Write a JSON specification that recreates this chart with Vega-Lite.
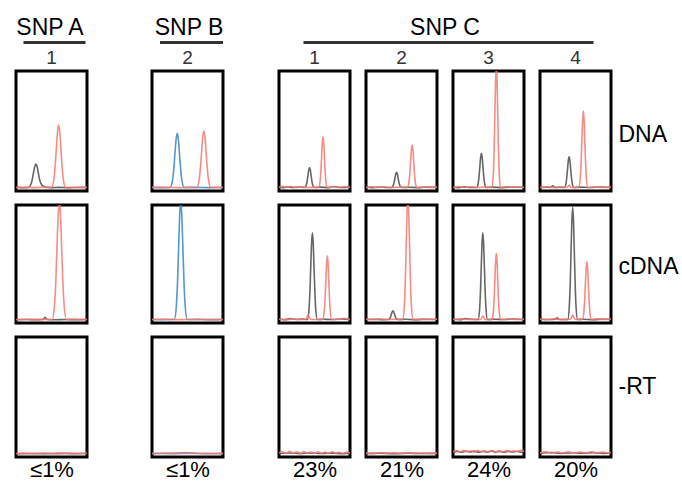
{
"$schema":"https://vega.github.io/schema/vega-lite/v6.json",
"padding":{"left":14,"top":17,"right":0,"bottom":0},
"config":{"view":{"stroke":"#000","strokeWidth":3},"font":"Liberation Sans","title":{"fontWeight":"normal","color":"#000","font":"Liberation Sans"},"axis":{"titleFontWeight":"normal","titleColor":"#000","titleFont":"Liberation Sans"},"line":{"interpolate":"monotone","strokeWidth":1.6,"opacity":0.85}},
"datasets":{
"A1_DNA":[{"dye":"TAMRA","pos":0,"signal":1.2},{"dye":"TAMRA","pos":8,"signal":0.8},{"dye":"TAMRA","pos":17.5,"signal":1},{"dye":"TAMRA","pos":21,"signal":3.7},{"dye":"TAMRA","pos":22.8,"signal":7.5},{"dye":"TAMRA","pos":24.5,"signal":13.1},{"dye":"TAMRA","pos":26.3,"signal":18.6},{"dye":"TAMRA","pos":28,"signal":21},{"dye":"TAMRA","pos":29.8,"signal":18.6},{"dye":"TAMRA","pos":31.5,"signal":13.1},{"dye":"TAMRA","pos":33.3,"signal":7.5},{"dye":"TAMRA","pos":35,"signal":4.5},{"dye":"TAMRA","pos":38.5,"signal":2},{"dye":"TAMRA","pos":44,"signal":1},{"dye":"TAMRA","pos":52,"signal":0.9},{"dye":"TAMRA","pos":60,"signal":1.1},{"dye":"TAMRA","pos":75,"signal":0.8},{"dye":"TAMRA","pos":90,"signal":1.2},{"dye":"TAMRA","pos":100,"signal":1},
{"dye":"ROX","pos":0,"signal":1},{"dye":"ROX","pos":12,"signal":1.3},{"dye":"ROX","pos":25,"signal":0.9},{"dye":"ROX","pos":40,"signal":1.2},{"dye":"ROX","pos":50.1,"signal":1},{"dye":"ROX","pos":53.4,"signal":8.2},{"dye":"ROX","pos":55,"signal":18.2},{"dye":"ROX","pos":56.7,"signal":33.2},{"dye":"ROX","pos":58.4,"signal":47.7},{"dye":"ROX","pos":60,"signal":54},{"dye":"ROX","pos":61.7,"signal":47.7},{"dye":"ROX","pos":63.3,"signal":33.2},{"dye":"ROX","pos":65,"signal":18.2},{"dye":"ROX","pos":66.6,"signal":8.2},{"dye":"ROX","pos":69.9,"signal":1},{"dye":"ROX","pos":80,"signal":1.2},{"dye":"ROX","pos":90,"signal":0.8},{"dye":"ROX","pos":100,"signal":1.1}],
"A1_cDNA":[{"dye":"TAMRA","pos":0,"signal":0.8},{"dye":"TAMRA","pos":15,"signal":1},{"dye":"TAMRA","pos":30,"signal":0.9},{"dye":"TAMRA","pos":38,"signal":1},{"dye":"TAMRA","pos":41,"signal":3},{"dye":"TAMRA","pos":44,"signal":1},{"dye":"TAMRA","pos":55,"signal":0.8},{"dye":"TAMRA","pos":70,"signal":1},{"dye":"TAMRA","pos":85,"signal":0.9},{"dye":"TAMRA","pos":100,"signal":1},
{"dye":"ROX","pos":0,"signal":1},{"dye":"ROX","pos":15,"signal":1.2},{"dye":"ROX","pos":30,"signal":0.9},{"dye":"ROX","pos":42,"signal":1.1},{"dye":"ROX","pos":51.1,"signal":1},{"dye":"ROX","pos":54.4,"signal":14.8},{"dye":"ROX","pos":56.1,"signal":34.2},{"dye":"ROX","pos":57.7,"signal":62.9},{"dye":"ROX","pos":59.4,"signal":91},{"dye":"ROX","pos":61,"signal":103},{"dye":"ROX","pos":62.7,"signal":91},{"dye":"ROX","pos":64.3,"signal":62.9},{"dye":"ROX","pos":66,"signal":34.2},{"dye":"ROX","pos":67.6,"signal":14.8},{"dye":"ROX","pos":70.9,"signal":1},{"dye":"ROX","pos":80,"signal":1.2},{"dye":"ROX","pos":90,"signal":0.9},{"dye":"ROX","pos":100,"signal":1}],
"A1_RT":[{"dye":"TAMRA","pos":0,"signal":0.8},{"dye":"TAMRA","pos":20,"signal":1},{"dye":"TAMRA","pos":40,"signal":0.9},{"dye":"TAMRA","pos":60,"signal":1.1},{"dye":"TAMRA","pos":80,"signal":0.9},{"dye":"TAMRA","pos":100,"signal":1},
{"dye":"ROX","pos":0,"signal":1},{"dye":"ROX","pos":10,"signal":1.3},{"dye":"ROX","pos":25,"signal":0.9},{"dye":"ROX","pos":40,"signal":1.2},{"dye":"ROX","pos":55,"signal":0.8},{"dye":"ROX","pos":70,"signal":1.3},{"dye":"ROX","pos":85,"signal":1},{"dye":"ROX","pos":100,"signal":1.2}],
"B2_DNA":[{"dye":"R110","pos":0,"signal":1},{"dye":"R110","pos":12,"signal":0.9},{"dye":"R110","pos":25.6,"signal":1},{"dye":"R110","pos":28.9,"signal":7.2},{"dye":"R110","pos":30.6,"signal":16},{"dye":"R110","pos":32.2,"signal":28.9},{"dye":"R110","pos":33.9,"signal":41.6},{"dye":"R110","pos":35.5,"signal":47},{"dye":"R110","pos":37.2,"signal":41.6},{"dye":"R110","pos":38.8,"signal":28.9},{"dye":"R110","pos":40.5,"signal":16},{"dye":"R110","pos":42.1,"signal":7.2},{"dye":"R110","pos":45.4,"signal":1},{"dye":"R110","pos":60,"signal":1.1},{"dye":"R110","pos":80,"signal":0.9},{"dye":"R110","pos":100,"signal":1},
{"dye":"ROX","pos":0,"signal":1},{"dye":"ROX","pos":20,"signal":1.1},{"dye":"ROX","pos":40,"signal":0.9},{"dye":"ROX","pos":55,"signal":1},{"dye":"ROX","pos":63.1,"signal":1},{"dye":"ROX","pos":66.4,"signal":7.5},{"dye":"ROX","pos":68.1,"signal":16.6},{"dye":"ROX","pos":69.7,"signal":30.1},{"dye":"ROX","pos":71.4,"signal":43.3},{"dye":"ROX","pos":73,"signal":49},{"dye":"ROX","pos":74.7,"signal":43.3},{"dye":"ROX","pos":76.3,"signal":30.1},{"dye":"ROX","pos":78,"signal":16.6},{"dye":"ROX","pos":79.6,"signal":7.5},{"dye":"ROX","pos":82.9,"signal":1},{"dye":"ROX","pos":92,"signal":1.1},{"dye":"ROX","pos":100,"signal":1}],
"B2_cDNA":[{"dye":"R110","pos":0,"signal":1},{"dye":"R110","pos":15,"signal":0.9},{"dye":"R110","pos":31.5,"signal":1},{"dye":"R110","pos":34.5,"signal":14.8},{"dye":"R110","pos":36,"signal":34.2},{"dye":"R110","pos":37.5,"signal":62.9},{"dye":"R110","pos":39,"signal":91},{"dye":"R110","pos":40.5,"signal":103},{"dye":"R110","pos":42,"signal":91},{"dye":"R110","pos":43.5,"signal":62.9},{"dye":"R110","pos":45,"signal":34.2},{"dye":"R110","pos":46.5,"signal":14.8},{"dye":"R110","pos":49.5,"signal":1},{"dye":"R110","pos":65,"signal":1.1},{"dye":"R110","pos":80,"signal":0.9},{"dye":"R110","pos":100,"signal":1},
{"dye":"ROX","pos":0,"signal":1},{"dye":"ROX","pos":20,"signal":1.2},{"dye":"ROX","pos":40,"signal":0.9},{"dye":"ROX","pos":60,"signal":1.1},{"dye":"ROX","pos":80,"signal":0.9},{"dye":"ROX","pos":100,"signal":1}],
"B2_RT":[{"dye":"R110","pos":0,"signal":0.9},{"dye":"R110","pos":25,"signal":1.1},{"dye":"R110","pos":50,"signal":1.5},{"dye":"R110","pos":75,"signal":1},{"dye":"R110","pos":100,"signal":0.9},
{"dye":"ROX","pos":0,"signal":1},{"dye":"ROX","pos":15,"signal":1.2},{"dye":"ROX","pos":35,"signal":0.9},{"dye":"ROX","pos":55,"signal":1.1},{"dye":"ROX","pos":75,"signal":0.9},{"dye":"ROX","pos":100,"signal":1.1}],
"C1_DNA":[{"dye":"TAMRA","pos":0,"signal":1.5},{"dye":"TAMRA","pos":6,"signal":0.8},{"dye":"TAMRA","pos":12,"signal":1.6},{"dye":"TAMRA","pos":20,"signal":1},{"dye":"TAMRA","pos":28,"signal":1.3},{"dye":"TAMRA","pos":36.4,"signal":1},{"dye":"TAMRA","pos":38.6,"signal":3.3},{"dye":"TAMRA","pos":39.7,"signal":6.5},{"dye":"TAMRA","pos":40.8,"signal":11.3},{"dye":"TAMRA","pos":41.9,"signal":16},{"dye":"TAMRA","pos":43,"signal":18},{"dye":"TAMRA","pos":44.1,"signal":16},{"dye":"TAMRA","pos":45.2,"signal":11.3},{"dye":"TAMRA","pos":46.3,"signal":6.5},{"dye":"TAMRA","pos":47.4,"signal":3.3},{"dye":"TAMRA","pos":49.6,"signal":1},{"dye":"TAMRA","pos":58,"signal":1.3},{"dye":"TAMRA","pos":70,"signal":0.9},{"dye":"TAMRA","pos":78,"signal":1.8},{"dye":"TAMRA","pos":86,"signal":1},{"dye":"TAMRA","pos":100,"signal":1.2},
{"dye":"ROX","pos":0,"signal":1},{"dye":"ROX","pos":5,"signal":2},{"dye":"ROX","pos":10,"signal":1},{"dye":"ROX","pos":16,"signal":1.8},{"dye":"ROX","pos":24,"signal":1},{"dye":"ROX","pos":32,"signal":1.5},{"dye":"ROX","pos":40,"signal":1},{"dye":"ROX","pos":50,"signal":1.2},{"dye":"ROX","pos":56,"signal":1},{"dye":"ROX","pos":58,"signal":6.8},{"dye":"ROX","pos":59,"signal":15},{"dye":"ROX","pos":60,"signal":27.1},{"dye":"ROX","pos":61,"signal":38.9},{"dye":"ROX","pos":62,"signal":44},{"dye":"ROX","pos":63,"signal":38.9},{"dye":"ROX","pos":64,"signal":27.1},{"dye":"ROX","pos":65,"signal":15},{"dye":"ROX","pos":66,"signal":6.8},{"dye":"ROX","pos":68,"signal":1},{"dye":"ROX","pos":76,"signal":1.6},{"dye":"ROX","pos":84,"signal":1},{"dye":"ROX","pos":92,"signal":1.8},{"dye":"ROX","pos":100,"signal":1}],
"C1_cDNA":[{"dye":"TAMRA","pos":0,"signal":1.5},{"dye":"TAMRA","pos":8,"signal":0.9},{"dye":"TAMRA","pos":16,"signal":1.8},{"dye":"TAMRA","pos":24,"signal":1},{"dye":"TAMRA","pos":32,"signal":1.4},{"dye":"TAMRA","pos":40.1,"signal":1},{"dye":"TAMRA","pos":42.4,"signal":11.1},{"dye":"TAMRA","pos":43.6,"signal":25.4},{"dye":"TAMRA","pos":44.7,"signal":46.5},{"dye":"TAMRA","pos":45.9,"signal":67.2},{"dye":"TAMRA","pos":47,"signal":76},{"dye":"TAMRA","pos":48.2,"signal":67.2},{"dye":"TAMRA","pos":49.3,"signal":46.5},{"dye":"TAMRA","pos":50.5,"signal":25.4},{"dye":"TAMRA","pos":51.6,"signal":11.1},{"dye":"TAMRA","pos":53.9,"signal":1},{"dye":"TAMRA","pos":62,"signal":1.3},{"dye":"TAMRA","pos":75,"signal":1},{"dye":"TAMRA","pos":88,"signal":1.5},{"dye":"TAMRA","pos":100,"signal":1},
{"dye":"ROX","pos":0,"signal":1.3},{"dye":"ROX","pos":10,"signal":0.8},{"dye":"ROX","pos":20,"signal":1.5},{"dye":"ROX","pos":30,"signal":1},{"dye":"ROX","pos":38,"signal":1.2},{"dye":"ROX","pos":41,"signal":5},{"dye":"ROX","pos":44,"signal":1.2},{"dye":"ROX","pos":52,"signal":1},{"dye":"ROX","pos":61.7,"signal":1},{"dye":"ROX","pos":63.8,"signal":8.4},{"dye":"ROX","pos":64.9,"signal":18.9},{"dye":"ROX","pos":65.9,"signal":34.4},{"dye":"ROX","pos":67,"signal":49.5},{"dye":"ROX","pos":68,"signal":56},{"dye":"ROX","pos":69.1,"signal":49.5},{"dye":"ROX","pos":70.1,"signal":34.4},{"dye":"ROX","pos":71.2,"signal":18.9},{"dye":"ROX","pos":72.2,"signal":8.4},{"dye":"ROX","pos":74.3,"signal":1},{"dye":"ROX","pos":85,"signal":1.3},{"dye":"ROX","pos":92,"signal":2},{"dye":"ROX","pos":100,"signal":1}],
"C1_RT":[{"dye":"TAMRA","pos":0,"signal":1},{"dye":"TAMRA","pos":15,"signal":1.4},{"dye":"TAMRA","pos":30,"signal":0.9},{"dye":"TAMRA","pos":45,"signal":1.5},{"dye":"TAMRA","pos":60,"signal":1},{"dye":"TAMRA","pos":75,"signal":1.3},{"dye":"TAMRA","pos":90,"signal":0.9},{"dye":"TAMRA","pos":100,"signal":1.2},
{"dye":"ROX","pos":0,"signal":1.5},{"dye":"ROX","pos":5,"signal":2.5},{"dye":"ROX","pos":10,"signal":1},{"dye":"ROX","pos":15,"signal":2.8},{"dye":"ROX","pos":20,"signal":1.2},{"dye":"ROX","pos":25,"signal":2.4},{"dye":"ROX","pos":30,"signal":1},{"dye":"ROX","pos":35,"signal":2.6},{"dye":"ROX","pos":40,"signal":1.3},{"dye":"ROX","pos":45,"signal":2.2},{"dye":"ROX","pos":50,"signal":1},{"dye":"ROX","pos":55,"signal":2.5},{"dye":"ROX","pos":60,"signal":1.2},{"dye":"ROX","pos":65,"signal":2.3},{"dye":"ROX","pos":70,"signal":1},{"dye":"ROX","pos":75,"signal":2.4},{"dye":"ROX","pos":80,"signal":1.3},{"dye":"ROX","pos":85,"signal":2},{"dye":"ROX","pos":90,"signal":1},{"dye":"ROX","pos":95,"signal":2.2},{"dye":"ROX","pos":100,"signal":1.4}],
"C2_DNA":[{"dye":"TAMRA","pos":0,"signal":1.2},{"dye":"TAMRA","pos":10,"signal":0.9},{"dye":"TAMRA","pos":20,"signal":1.4},{"dye":"TAMRA","pos":30,"signal":1},{"dye":"TAMRA","pos":36.1,"signal":1},{"dye":"TAMRA","pos":38.4,"signal":2.8},{"dye":"TAMRA","pos":39.6,"signal":5.2},{"dye":"TAMRA","pos":40.7,"signal":8.9},{"dye":"TAMRA","pos":41.9,"signal":12.5},{"dye":"TAMRA","pos":43,"signal":14},{"dye":"TAMRA","pos":44.2,"signal":12.5},{"dye":"TAMRA","pos":45.3,"signal":8.9},{"dye":"TAMRA","pos":46.5,"signal":5.2},{"dye":"TAMRA","pos":47.6,"signal":2.8},{"dye":"TAMRA","pos":49.9,"signal":1},{"dye":"TAMRA","pos":60,"signal":1.2},{"dye":"TAMRA","pos":75,"signal":0.9},{"dye":"TAMRA","pos":88,"signal":1.4},{"dye":"TAMRA","pos":100,"signal":1},
{"dye":"ROX","pos":0,"signal":1},{"dye":"ROX","pos":8,"signal":1.6},{"dye":"ROX","pos":16,"signal":1},{"dye":"ROX","pos":26,"signal":1.5},{"dye":"ROX","pos":36,"signal":1},{"dye":"ROX","pos":48,"signal":1.3},{"dye":"ROX","pos":58.4,"signal":1},{"dye":"ROX","pos":60.6,"signal":5.9},{"dye":"ROX","pos":61.7,"signal":12.7},{"dye":"ROX","pos":62.8,"signal":22.9},{"dye":"ROX","pos":63.9,"signal":32.8},{"dye":"ROX","pos":65,"signal":37},{"dye":"ROX","pos":66.1,"signal":32.8},{"dye":"ROX","pos":67.2,"signal":22.9},{"dye":"ROX","pos":68.3,"signal":12.7},{"dye":"ROX","pos":69.4,"signal":5.9},{"dye":"ROX","pos":71.6,"signal":1},{"dye":"ROX","pos":80,"signal":1.4},{"dye":"ROX","pos":90,"signal":1},{"dye":"ROX","pos":100,"signal":1.3}],
"C2_cDNA":[{"dye":"TAMRA","pos":0,"signal":1},{"dye":"TAMRA","pos":12,"signal":1.3},{"dye":"TAMRA","pos":24,"signal":0.9},{"dye":"TAMRA","pos":31.4,"signal":1},{"dye":"TAMRA","pos":33.6,"signal":2},{"dye":"TAMRA","pos":34.7,"signal":3.4},{"dye":"TAMRA","pos":35.8,"signal":5.6},{"dye":"TAMRA","pos":36.9,"signal":7.6},{"dye":"TAMRA","pos":38,"signal":8.5},{"dye":"TAMRA","pos":39.1,"signal":7.6},{"dye":"TAMRA","pos":40.2,"signal":5.6},{"dye":"TAMRA","pos":41.3,"signal":3.4},{"dye":"TAMRA","pos":42.4,"signal":2},{"dye":"TAMRA","pos":44.6,"signal":1},{"dye":"TAMRA","pos":55,"signal":1.2},{"dye":"TAMRA","pos":70,"signal":0.9},{"dye":"TAMRA","pos":85,"signal":1.3},{"dye":"TAMRA","pos":100,"signal":1},
{"dye":"ROX","pos":0,"signal":1.2},{"dye":"ROX","pos":10,"signal":0.9},{"dye":"ROX","pos":20,"signal":1.4},{"dye":"ROX","pos":30,"signal":1},{"dye":"ROX","pos":42,"signal":1.3},{"dye":"ROX","pos":51.8,"signal":1},{"dye":"ROX","pos":54.2,"signal":15},{"dye":"ROX","pos":55.4,"signal":34.8},{"dye":"ROX","pos":56.6,"signal":64.1},{"dye":"ROX","pos":57.8,"signal":92.7},{"dye":"ROX","pos":59,"signal":105},{"dye":"ROX","pos":60.2,"signal":92.7},{"dye":"ROX","pos":61.4,"signal":64.1},{"dye":"ROX","pos":62.6,"signal":34.8},{"dye":"ROX","pos":63.8,"signal":15},{"dye":"ROX","pos":66.2,"signal":1},{"dye":"ROX","pos":76,"signal":1.3},{"dye":"ROX","pos":88,"signal":1},{"dye":"ROX","pos":100,"signal":1.2}],
"C2_RT":[{"dye":"TAMRA","pos":0,"signal":1},{"dye":"TAMRA","pos":20,"signal":1.3},{"dye":"TAMRA","pos":40,"signal":0.9},{"dye":"TAMRA","pos":60,"signal":1.2},{"dye":"TAMRA","pos":80,"signal":1},{"dye":"TAMRA","pos":100,"signal":1.1},
{"dye":"ROX","pos":0,"signal":1.3},{"dye":"ROX","pos":10,"signal":0.9},{"dye":"ROX","pos":20,"signal":1.6},{"dye":"ROX","pos":30,"signal":1.1},{"dye":"ROX","pos":40,"signal":1.5},{"dye":"ROX","pos":50,"signal":1},{"dye":"ROX","pos":60,"signal":1.6},{"dye":"ROX","pos":70,"signal":1},{"dye":"ROX","pos":80,"signal":1.4},{"dye":"ROX","pos":90,"signal":1},{"dye":"ROX","pos":100,"signal":1.3}],
"C3_DNA":[{"dye":"TAMRA","pos":0,"signal":1.2},{"dye":"TAMRA","pos":8,"signal":0.9},{"dye":"TAMRA","pos":16,"signal":1.5},{"dye":"TAMRA","pos":25,"signal":1},{"dye":"TAMRA","pos":33.4,"signal":1},{"dye":"TAMRA","pos":35.6,"signal":4.9},{"dye":"TAMRA","pos":36.7,"signal":10.4},{"dye":"TAMRA","pos":37.8,"signal":18.6},{"dye":"TAMRA","pos":38.9,"signal":26.6},{"dye":"TAMRA","pos":40,"signal":30},{"dye":"TAMRA","pos":41.1,"signal":26.6},{"dye":"TAMRA","pos":42.2,"signal":18.6},{"dye":"TAMRA","pos":43.3,"signal":10.4},{"dye":"TAMRA","pos":44.4,"signal":4.9},{"dye":"TAMRA","pos":46.6,"signal":1},{"dye":"TAMRA","pos":55,"signal":1.3},{"dye":"TAMRA","pos":70,"signal":0.9},{"dye":"TAMRA","pos":85,"signal":1.4},{"dye":"TAMRA","pos":100,"signal":1},
{"dye":"ROX","pos":0,"signal":1},{"dye":"ROX","pos":8,"signal":1.8},{"dye":"ROX","pos":16,"signal":1},{"dye":"ROX","pos":25,"signal":1.6},{"dye":"ROX","pos":35,"signal":1},{"dye":"ROX","pos":45,"signal":1.5},{"dye":"ROX","pos":55,"signal":1},{"dye":"ROX","pos":57,"signal":15},{"dye":"ROX","pos":58,"signal":34.8},{"dye":"ROX","pos":59,"signal":64.1},{"dye":"ROX","pos":60,"signal":92.7},{"dye":"ROX","pos":61,"signal":105},{"dye":"ROX","pos":62,"signal":92.7},{"dye":"ROX","pos":63,"signal":64.1},{"dye":"ROX","pos":64,"signal":34.8},{"dye":"ROX","pos":65,"signal":15},{"dye":"ROX","pos":67,"signal":1},{"dye":"ROX","pos":75,"signal":1.7},{"dye":"ROX","pos":85,"signal":1},{"dye":"ROX","pos":93,"signal":1.6},{"dye":"ROX","pos":100,"signal":1}],
"C3_cDNA":[{"dye":"TAMRA","pos":0,"signal":1.3},{"dye":"TAMRA","pos":10,"signal":0.9},{"dye":"TAMRA","pos":18,"signal":1.8},{"dye":"TAMRA","pos":26,"signal":1.2},{"dye":"TAMRA","pos":35.4,"signal":1},{"dye":"TAMRA","pos":37.6,"signal":11.1},{"dye":"TAMRA","pos":38.7,"signal":25.4},{"dye":"TAMRA","pos":39.8,"signal":46.5},{"dye":"TAMRA","pos":40.9,"signal":67.2},{"dye":"TAMRA","pos":42,"signal":76},{"dye":"TAMRA","pos":43.1,"signal":67.2},{"dye":"TAMRA","pos":44.2,"signal":46.5},{"dye":"TAMRA","pos":45.3,"signal":25.4},{"dye":"TAMRA","pos":46.4,"signal":11.1},{"dye":"TAMRA","pos":48.6,"signal":1},{"dye":"TAMRA","pos":58,"signal":1.3},{"dye":"TAMRA","pos":72,"signal":1},{"dye":"TAMRA","pos":86,"signal":1.4},{"dye":"TAMRA","pos":100,"signal":1},
{"dye":"ROX","pos":0,"signal":1},{"dye":"ROX","pos":12,"signal":1.4},{"dye":"ROX","pos":24,"signal":1},{"dye":"ROX","pos":34,"signal":1.3},{"dye":"ROX","pos":39,"signal":1},{"dye":"ROX","pos":42,"signal":4},{"dye":"ROX","pos":45,"signal":1},{"dye":"ROX","pos":55,"signal":1},{"dye":"ROX","pos":57,"signal":8.7},{"dye":"ROX","pos":58,"signal":19.5},{"dye":"ROX","pos":59,"signal":35.6},{"dye":"ROX","pos":60,"signal":51.3},{"dye":"ROX","pos":61,"signal":58},{"dye":"ROX","pos":62,"signal":51.3},{"dye":"ROX","pos":63,"signal":35.6},{"dye":"ROX","pos":64,"signal":19.5},{"dye":"ROX","pos":65,"signal":8.7},{"dye":"ROX","pos":67,"signal":1},{"dye":"ROX","pos":78,"signal":1.5},{"dye":"ROX","pos":90,"signal":1},{"dye":"ROX","pos":100,"signal":1.3}],
"C3_RT":[{"dye":"TAMRA","pos":0,"signal":2},{"dye":"TAMRA","pos":6,"signal":2.8},{"dye":"TAMRA","pos":12,"signal":2},{"dye":"TAMRA","pos":18,"signal":3},{"dye":"TAMRA","pos":24,"signal":2.2},{"dye":"TAMRA","pos":30,"signal":3},{"dye":"TAMRA","pos":36,"signal":2.1},{"dye":"TAMRA","pos":42,"signal":2.9},{"dye":"TAMRA","pos":48,"signal":2.2},{"dye":"TAMRA","pos":54,"signal":3.1},{"dye":"TAMRA","pos":60,"signal":2.1},{"dye":"TAMRA","pos":66,"signal":2.8},{"dye":"TAMRA","pos":72,"signal":2},{"dye":"TAMRA","pos":78,"signal":3},{"dye":"TAMRA","pos":84,"signal":2.2},{"dye":"TAMRA","pos":90,"signal":2.9},{"dye":"TAMRA","pos":96,"signal":2.1},{"dye":"TAMRA","pos":100,"signal":2.5},
{"dye":"ROX","pos":0,"signal":2.5},{"dye":"ROX","pos":5,"signal":3.5},{"dye":"ROX","pos":10,"signal":2.2},{"dye":"ROX","pos":15,"signal":3.4},{"dye":"ROX","pos":20,"signal":2.4},{"dye":"ROX","pos":25,"signal":3.3},{"dye":"ROX","pos":30,"signal":2.1},{"dye":"ROX","pos":35,"signal":3.6},{"dye":"ROX","pos":40,"signal":2.3},{"dye":"ROX","pos":45,"signal":3.2},{"dye":"ROX","pos":50,"signal":2.2},{"dye":"ROX","pos":55,"signal":3.5},{"dye":"ROX","pos":60,"signal":2.4},{"dye":"ROX","pos":65,"signal":3.3},{"dye":"ROX","pos":70,"signal":2.2},{"dye":"ROX","pos":75,"signal":3.4},{"dye":"ROX","pos":80,"signal":2.3},{"dye":"ROX","pos":85,"signal":3.2},{"dye":"ROX","pos":90,"signal":2.5},{"dye":"ROX","pos":95,"signal":3.6},{"dye":"ROX","pos":100,"signal":3}],
"C4_DNA":[{"dye":"TAMRA","pos":0,"signal":1},{"dye":"TAMRA","pos":10,"signal":1.3},{"dye":"TAMRA","pos":15,"signal":1},{"dye":"TAMRA","pos":18,"signal":2.5},{"dye":"TAMRA","pos":21,"signal":1},{"dye":"TAMRA","pos":28,"signal":1.2},{"dye":"TAMRA","pos":34.4,"signal":1},{"dye":"TAMRA","pos":36.6,"signal":4.5},{"dye":"TAMRA","pos":37.7,"signal":9.5},{"dye":"TAMRA","pos":38.8,"signal":16.8},{"dye":"TAMRA","pos":39.9,"signal":23.9},{"dye":"TAMRA","pos":41,"signal":27},{"dye":"TAMRA","pos":42.1,"signal":23.9},{"dye":"TAMRA","pos":43.2,"signal":16.8},{"dye":"TAMRA","pos":44.3,"signal":9.5},{"dye":"TAMRA","pos":45.4,"signal":4.5},{"dye":"TAMRA","pos":47.6,"signal":1},{"dye":"TAMRA","pos":56,"signal":1.3},{"dye":"TAMRA","pos":70,"signal":1},{"dye":"TAMRA","pos":85,"signal":1.4},{"dye":"TAMRA","pos":100,"signal":1},
{"dye":"ROX","pos":0,"signal":1},{"dye":"ROX","pos":10,"signal":1.5},{"dye":"ROX","pos":20,"signal":1},{"dye":"ROX","pos":30,"signal":1.4},{"dye":"ROX","pos":38,"signal":1},{"dye":"ROX","pos":41,"signal":3},{"dye":"ROX","pos":44,"signal":1},{"dye":"ROX","pos":54.7,"signal":1},{"dye":"ROX","pos":56.8,"signal":9.8},{"dye":"ROX","pos":57.9,"signal":22.1},{"dye":"ROX","pos":58.9,"signal":40.5},{"dye":"ROX","pos":60,"signal":58.3},{"dye":"ROX","pos":61,"signal":66},{"dye":"ROX","pos":62.1,"signal":58.3},{"dye":"ROX","pos":63.1,"signal":40.5},{"dye":"ROX","pos":64.2,"signal":22.1},{"dye":"ROX","pos":65.2,"signal":9.8},{"dye":"ROX","pos":67.3,"signal":1},{"dye":"ROX","pos":76,"signal":1.5},{"dye":"ROX","pos":88,"signal":1},{"dye":"ROX","pos":100,"signal":1.3}],
"C4_cDNA":[{"dye":"TAMRA","pos":0,"signal":1.2},{"dye":"TAMRA","pos":12,"signal":1},{"dye":"TAMRA","pos":22,"signal":1.3},{"dye":"TAMRA","pos":24,"signal":2.5},{"dye":"TAMRA","pos":26,"signal":1.2},{"dye":"TAMRA","pos":32,"signal":1},{"dye":"TAMRA","pos":39.1,"signal":1},{"dye":"TAMRA","pos":41.4,"signal":14.1},{"dye":"TAMRA","pos":42.6,"signal":32.5},{"dye":"TAMRA","pos":43.7,"signal":59.9},{"dye":"TAMRA","pos":44.9,"signal":86.6},{"dye":"TAMRA","pos":46,"signal":98},{"dye":"TAMRA","pos":47.2,"signal":86.6},{"dye":"TAMRA","pos":48.3,"signal":59.9},{"dye":"TAMRA","pos":49.5,"signal":32.5},{"dye":"TAMRA","pos":50.6,"signal":14.1},{"dye":"TAMRA","pos":52.9,"signal":1},{"dye":"TAMRA","pos":60,"signal":1.2},{"dye":"TAMRA","pos":75,"signal":0.9},{"dye":"TAMRA","pos":88,"signal":1.3},{"dye":"TAMRA","pos":100,"signal":1},
{"dye":"ROX","pos":0,"signal":1.3},{"dye":"ROX","pos":10,"signal":1},{"dye":"ROX","pos":20,"signal":1.6},{"dye":"ROX","pos":30,"signal":1},{"dye":"ROX","pos":40,"signal":1.2},{"dye":"ROX","pos":43,"signal":1.2},{"dye":"ROX","pos":46,"signal":5},{"dye":"ROX","pos":49,"signal":1.2},{"dye":"ROX","pos":59.7,"signal":1},{"dye":"ROX","pos":61.8,"signal":7.8},{"dye":"ROX","pos":62.9,"signal":17.3},{"dye":"ROX","pos":63.9,"signal":31.4},{"dye":"ROX","pos":65,"signal":45.1},{"dye":"ROX","pos":66,"signal":51},{"dye":"ROX","pos":67.1,"signal":45.1},{"dye":"ROX","pos":68.1,"signal":31.4},{"dye":"ROX","pos":69.2,"signal":17.3},{"dye":"ROX","pos":70.2,"signal":7.8},{"dye":"ROX","pos":72.3,"signal":1},{"dye":"ROX","pos":80,"signal":1.6},{"dye":"ROX","pos":90,"signal":1.1},{"dye":"ROX","pos":100,"signal":1.5}],
"C4_RT":[{"dye":"TAMRA","pos":0,"signal":1.2},{"dye":"TAMRA","pos":15,"signal":1.8},{"dye":"TAMRA","pos":30,"signal":1.1},{"dye":"TAMRA","pos":45,"signal":1.6},{"dye":"TAMRA","pos":60,"signal":1.2},{"dye":"TAMRA","pos":75,"signal":1.7},{"dye":"TAMRA","pos":90,"signal":1.1},{"dye":"TAMRA","pos":100,"signal":1.4},
{"dye":"ROX","pos":0,"signal":1.5},{"dye":"ROX","pos":8,"signal":2.4},{"dye":"ROX","pos":16,"signal":1.2},{"dye":"ROX","pos":24,"signal":2.3},{"dye":"ROX","pos":32,"signal":1.4},{"dye":"ROX","pos":40,"signal":2.5},{"dye":"ROX","pos":48,"signal":1.3},{"dye":"ROX","pos":56,"signal":2.2},{"dye":"ROX","pos":64,"signal":1.4},{"dye":"ROX","pos":72,"signal":2.4},{"dye":"ROX","pos":80,"signal":1.3},{"dye":"ROX","pos":88,"signal":2.2},{"dye":"ROX","pos":96,"signal":1.5},{"dye":"ROX","pos":100,"signal":1.8}]
},
"spacing":51,
"hconcat":[
{"hconcat":[
 {"vconcat":[
  {"width":74,"height":1,"view":{"stroke":null},"title":{"text":"SNP A","fontSize":23,"offset":1,"dx":-3},"data":{"name":"A1_DNA"},"mark":{"type":"point","opacity":0,"size":1},"encoding":{"x":{"field":"pos","type":"quantitative","scale":{"domain":[0,100],"range":[7,69]},"axis":{"orient":"bottom","domain":true,"domainColor":"#333","domainWidth":3,"labels":false,"ticks":false,"grid":false,"title":null}}}},
  {"vconcat":[
   {"width":71,"height":120,"title":{"text":"1","fontSize":19,"offset":3,"color":"#333"},"data":{"name":"A1_DNA"},"mark":{"type":"line","clip":true},"encoding":{"x":{"field":"pos","type":"quantitative","scale":{"domain":[0,100]},"axis":null},"y":{"field":"signal","type":"quantitative","scale":{"domain":[-2,100]},"axis":null},"color":{"field":"dye","type":"nominal","scale":{"domain":["TAMRA","ROX","R110"],"range":["#4b4b4b","#f47870","#3585c5"]},"legend":null}}},
   {"width":71,"height":118,"data":{"name":"A1_cDNA"},"mark":{"type":"line","clip":true},"encoding":{"x":{"field":"pos","type":"quantitative","scale":{"domain":[0,100]},"axis":null},"y":{"field":"signal","type":"quantitative","scale":{"domain":[-2,100]},"axis":null},"color":{"field":"dye","type":"nominal","scale":{"domain":["TAMRA","ROX","R110"],"range":["#4b4b4b","#f47870","#3585c5"]},"legend":null}}},
   {"width":71,"height":120,"data":{"name":"A1_RT"},"mark":{"type":"line","clip":true},"encoding":{"x":{"field":"pos","type":"quantitative","scale":{"domain":[0,100]},"axis":{"title":"≤1%","titleFontSize":22,"titlePadding":2,"labels":false,"ticks":false,"domain":false,"grid":false}},"y":{"field":"signal","type":"quantitative","scale":{"domain":[-2,100]},"axis":null},"color":{"field":"dye","type":"nominal","scale":{"domain":["TAMRA","ROX","R110"],"range":["#4b4b4b","#f47870","#3585c5"]},"legend":null}}}
  ],"spacing":10}
 ],"spacing":5},
 {"vconcat":[
  {"width":74,"height":1,"view":{"stroke":null},"title":{"text":"SNP B","fontSize":23,"offset":1},"data":{"name":"B2_DNA"},"mark":{"type":"point","opacity":0,"size":1},"encoding":{"x":{"field":"pos","type":"quantitative","scale":{"domain":[0,100],"range":[7.5,70.5]},"axis":{"orient":"bottom","domain":true,"domainColor":"#333","domainWidth":3,"labels":false,"ticks":false,"grid":false,"title":null}}}},
  {"vconcat":[
   {"width":71,"height":120,"title":{"text":"2","fontSize":19,"offset":3,"color":"#333"},"data":{"name":"B2_DNA"},"mark":{"type":"line","clip":true},"encoding":{"x":{"field":"pos","type":"quantitative","scale":{"domain":[0,100]},"axis":null},"y":{"field":"signal","type":"quantitative","scale":{"domain":[-2,100]},"axis":null},"color":{"field":"dye","type":"nominal","scale":{"domain":["TAMRA","ROX","R110"],"range":["#4b4b4b","#f47870","#3585c5"]},"legend":null}}},
   {"width":71,"height":118,"data":{"name":"B2_cDNA"},"mark":{"type":"line","clip":true},"encoding":{"x":{"field":"pos","type":"quantitative","scale":{"domain":[0,100]},"axis":null},"y":{"field":"signal","type":"quantitative","scale":{"domain":[-2,100]},"axis":null},"color":{"field":"dye","type":"nominal","scale":{"domain":["TAMRA","ROX","R110"],"range":["#4b4b4b","#f47870","#3585c5"]},"legend":null}}},
   {"width":71,"height":120,"data":{"name":"B2_RT"},"mark":{"type":"line","clip":true},"encoding":{"x":{"field":"pos","type":"quantitative","scale":{"domain":[0,100]},"axis":{"title":"≤1%","titleFontSize":22,"titlePadding":2,"labels":false,"ticks":false,"domain":false,"grid":false}},"y":{"field":"signal","type":"quantitative","scale":{"domain":[-2,100]},"axis":null},"color":{"field":"dye","type":"nominal","scale":{"domain":["TAMRA","ROX","R110"],"range":["#4b4b4b","#f47870","#3585c5"]},"legend":null}}}
  ],"spacing":10}
 ],"spacing":5}
],"spacing":60},
{"vconcat":[
 {"width":332,"height":1,"view":{"stroke":null},"title":{"text":"SNP C","fontSize":23,"offset":1},"data":{"name":"C1_DNA"},"mark":{"type":"point","opacity":0,"size":1},"encoding":{"x":{"field":"pos","type":"quantitative","scale":{"domain":[0,100],"range":[24,314]},"axis":{"orient":"bottom","domain":true,"domainColor":"#333","domainWidth":3,"labels":false,"ticks":false,"grid":false,"title":null}}}},
 {"hconcat":[
  {"vconcat":[
   {"width":71,"height":120,"title":{"text":"1","fontSize":19,"offset":3,"color":"#333"},"data":{"name":"C1_DNA"},"mark":{"type":"line","clip":true},"encoding":{"x":{"field":"pos","type":"quantitative","scale":{"domain":[0,100]},"axis":null},"y":{"field":"signal","type":"quantitative","scale":{"domain":[-2,100]},"axis":null},"color":{"field":"dye","type":"nominal","scale":{"domain":["TAMRA","ROX","R110"],"range":["#4b4b4b","#f47870","#3585c5"]},"legend":null}}},
   {"width":71,"height":118,"data":{"name":"C1_cDNA"},"mark":{"type":"line","clip":true},"encoding":{"x":{"field":"pos","type":"quantitative","scale":{"domain":[0,100]},"axis":null},"y":{"field":"signal","type":"quantitative","scale":{"domain":[-2,100]},"axis":null},"color":{"field":"dye","type":"nominal","scale":{"domain":["TAMRA","ROX","R110"],"range":["#4b4b4b","#f47870","#3585c5"]},"legend":null}}},
   {"width":71,"height":120,"data":{"name":"C1_RT"},"mark":{"type":"line","clip":true},"encoding":{"x":{"field":"pos","type":"quantitative","scale":{"domain":[0,100]},"axis":{"title":"23%","titleFontSize":22,"titlePadding":2,"labels":false,"ticks":false,"domain":false,"grid":false}},"y":{"field":"signal","type":"quantitative","scale":{"domain":[-2,100]},"axis":null},"color":{"field":"dye","type":"nominal","scale":{"domain":["TAMRA","ROX","R110"],"range":["#4b4b4b","#f47870","#3585c5"]},"legend":null}}}
  ],"spacing":10},
  {"vconcat":[
   {"width":71,"height":120,"title":{"text":"2","fontSize":19,"offset":3,"color":"#333"},"data":{"name":"C2_DNA"},"mark":{"type":"line","clip":true},"encoding":{"x":{"field":"pos","type":"quantitative","scale":{"domain":[0,100]},"axis":null},"y":{"field":"signal","type":"quantitative","scale":{"domain":[-2,100]},"axis":null},"color":{"field":"dye","type":"nominal","scale":{"domain":["TAMRA","ROX","R110"],"range":["#4b4b4b","#f47870","#3585c5"]},"legend":null}}},
   {"width":71,"height":118,"data":{"name":"C2_cDNA"},"mark":{"type":"line","clip":true},"encoding":{"x":{"field":"pos","type":"quantitative","scale":{"domain":[0,100]},"axis":null},"y":{"field":"signal","type":"quantitative","scale":{"domain":[-2,100]},"axis":null},"color":{"field":"dye","type":"nominal","scale":{"domain":["TAMRA","ROX","R110"],"range":["#4b4b4b","#f47870","#3585c5"]},"legend":null}}},
   {"width":71,"height":120,"data":{"name":"C2_RT"},"mark":{"type":"line","clip":true},"encoding":{"x":{"field":"pos","type":"quantitative","scale":{"domain":[0,100]},"axis":{"title":"21%","titleFontSize":22,"titlePadding":2,"labels":false,"ticks":false,"domain":false,"grid":false}},"y":{"field":"signal","type":"quantitative","scale":{"domain":[-2,100]},"axis":null},"color":{"field":"dye","type":"nominal","scale":{"domain":["TAMRA","ROX","R110"],"range":["#4b4b4b","#f47870","#3585c5"]},"legend":null}}}
  ],"spacing":10},
  {"vconcat":[
   {"width":71,"height":120,"title":{"text":"3","fontSize":19,"offset":3,"color":"#333"},"data":{"name":"C3_DNA"},"mark":{"type":"line","clip":true},"encoding":{"x":{"field":"pos","type":"quantitative","scale":{"domain":[0,100]},"axis":null},"y":{"field":"signal","type":"quantitative","scale":{"domain":[-2,100]},"axis":null},"color":{"field":"dye","type":"nominal","scale":{"domain":["TAMRA","ROX","R110"],"range":["#4b4b4b","#f47870","#3585c5"]},"legend":null}}},
   {"width":71,"height":118,"data":{"name":"C3_cDNA"},"mark":{"type":"line","clip":true},"encoding":{"x":{"field":"pos","type":"quantitative","scale":{"domain":[0,100]},"axis":null},"y":{"field":"signal","type":"quantitative","scale":{"domain":[-2,100]},"axis":null},"color":{"field":"dye","type":"nominal","scale":{"domain":["TAMRA","ROX","R110"],"range":["#4b4b4b","#f47870","#3585c5"]},"legend":null}}},
   {"width":71,"height":120,"data":{"name":"C3_RT"},"mark":{"type":"line","clip":true},"encoding":{"x":{"field":"pos","type":"quantitative","scale":{"domain":[0,100]},"axis":{"title":"24%","titleFontSize":22,"titlePadding":2,"labels":false,"ticks":false,"domain":false,"grid":false}},"y":{"field":"signal","type":"quantitative","scale":{"domain":[-2,100]},"axis":null},"color":{"field":"dye","type":"nominal","scale":{"domain":["TAMRA","ROX","R110"],"range":["#4b4b4b","#f47870","#3585c5"]},"legend":null}}}
  ],"spacing":10},
  {"vconcat":[
   {"width":71,"height":120,"title":{"text":"4","fontSize":19,"offset":3,"color":"#333"},"data":{"name":"C4_DNA"},"mark":{"type":"line","clip":true},"encoding":{"x":{"field":"pos","type":"quantitative","scale":{"domain":[0,100]},"axis":null},"y":{"field":"signal","type":"quantitative","scale":{"domain":[-2,100]},"axis":{"orient":"right","title":"DNA","titleAngle":0,"titleAlign":"left","titleBaseline":"middle","titleY":63,"titleFontSize":23,"titlePadding":7,"labels":false,"ticks":false,"domain":false,"grid":false}},"color":{"field":"dye","type":"nominal","scale":{"domain":["TAMRA","ROX","R110"],"range":["#4b4b4b","#f47870","#3585c5"]},"legend":null}}},
   {"width":71,"height":118,"data":{"name":"C4_cDNA"},"mark":{"type":"line","clip":true},"encoding":{"x":{"field":"pos","type":"quantitative","scale":{"domain":[0,100]},"axis":null},"y":{"field":"signal","type":"quantitative","scale":{"domain":[-2,100]},"axis":{"orient":"right","title":"cDNA","titleAngle":0,"titleAlign":"left","titleBaseline":"middle","titleY":61.5,"titleFontSize":23,"titlePadding":7,"labels":false,"ticks":false,"domain":false,"grid":false}},"color":{"field":"dye","type":"nominal","scale":{"domain":["TAMRA","ROX","R110"],"range":["#4b4b4b","#f47870","#3585c5"]},"legend":null}}},
   {"width":71,"height":120,"data":{"name":"C4_RT"},"mark":{"type":"line","clip":true},"encoding":{"x":{"field":"pos","type":"quantitative","scale":{"domain":[0,100]},"axis":{"title":"20%","titleFontSize":22,"titlePadding":2,"labels":false,"ticks":false,"domain":false,"grid":false}},"y":{"field":"signal","type":"quantitative","scale":{"domain":[-2,100]},"axis":{"orient":"right","title":"-RT","titleAngle":0,"titleAlign":"left","titleBaseline":"middle","titleY":49.5,"titleFontSize":23,"titlePadding":7,"labels":false,"ticks":false,"domain":false,"grid":false}},"color":{"field":"dye","type":"nominal","scale":{"domain":["TAMRA","ROX","R110"],"range":["#4b4b4b","#f47870","#3585c5"]},"legend":null}}}
  ],"spacing":10}
 ],"spacing":12}
],"spacing":5}
]
}
